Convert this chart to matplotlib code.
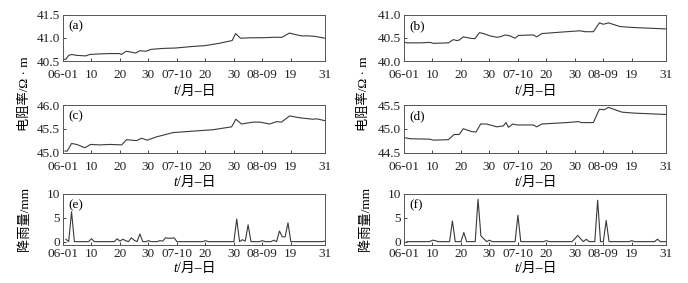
import numpy as np
import matplotlib
matplotlib.use('Agg')
import matplotlib.pyplot as plt
from matplotlib.transforms import offset_copy

plt.rcParams['font.family'] = ['Liberation Serif', 'Noto Sans CJK SC']
plt.rcParams['font.size'] = 9.5

# x axis: day number, June 1 = 1 ... Aug 31 = 92
tick_pos = [0, 10, 20, 30, 40, 50, 60, 70, 80, 92]
tick_labels = ['06-01', '10', '20', '30', '07-10', '20', '30', '08-09', '19', '31']

# (a) resistivity, left site
a_day = [0, 1, 2, 3, 5, 8, 9.4, 12, 16, 19.9, 20.5, 22.2, 24, 25.5, 26.9, 29.2, 30.9,
         35, 39.7, 45, 49.8, 54.8, 59.4, 60.6, 62.3, 66, 70, 74, 76.9, 79.5, 81.5, 83.8,
         86.2, 88.5, 92]
a_val = [40.53, 40.54, 40.62, 40.64, 40.62, 40.61, 40.64, 40.65, 40.66, 40.66, 40.64,
         40.71, 40.69, 40.67, 40.72, 40.71, 40.75, 40.77, 40.78, 40.81, 40.83, 40.88,
         40.94, 41.09, 40.99, 41.0, 41.0, 41.01, 41.01, 41.1, 41.07, 41.04, 41.04,
         41.03, 40.99]

# (b) resistivity, right site
b_day = [0, 0.9, 5.6, 9.1, 10.3, 15.6, 17.3, 18.5, 19.4, 20.8, 23.2, 24.9, 26.5, 27.9,
         30.2, 32.6, 33.7, 35.5, 37.2, 39, 40.2, 45.4, 46.6, 48.4, 57.1, 61.8, 63.6,
         66.5, 68.6, 70, 71.8, 75.9, 80.6, 92]
b_val = [40.41, 40.39, 40.39, 40.40, 40.38, 40.39, 40.46, 40.44, 40.45, 40.52, 40.49,
         40.48, 40.61, 40.59, 40.54, 40.51, 40.52, 40.56, 40.54, 40.49, 40.55, 40.56,
         40.52, 40.59, 40.63, 40.65, 40.63, 40.63, 40.82, 40.79, 40.82, 40.74, 40.72,
         40.69]

# (c) resistivity, left site
c_day = [0.7, 1.5, 3, 4.8, 7.7, 9.7, 13, 16.5, 20.6, 22.3, 25.8, 27.6, 29.6, 32.9,
         38.7, 43.4, 52.7, 59.2, 60.7, 62.7, 66.8, 69.1, 72.6, 75, 76.7, 79.6, 83.2,
         87.8, 89, 92]
c_val = [45.03, 45.03, 45.19, 45.17, 45.10, 45.17, 45.16, 45.17, 45.16, 45.27, 45.25,
         45.30, 45.26, 45.33, 45.42, 45.44, 45.48, 45.54, 45.70, 45.60, 45.64, 45.64,
         45.60, 45.65, 45.64, 45.77, 45.73, 45.70, 45.71, 45.67]

# (d) resistivity, right site
d_day = [0.4, 2.1, 9.1, 10.3, 15.6, 17.6, 19.4, 20.8, 23.8, 25.3, 26.9, 29, 32.6, 34.9,
         35.8, 36.7, 38.2, 39.6, 45.4, 46.6, 48.4, 57.1, 61.2, 62.4, 66.5, 68.6, 70.3,
         71.8, 76.5, 80.6, 92]
d_val = [44.81, 44.79, 44.78, 44.76, 44.77, 44.88, 44.88, 45.0, 44.94, 44.93, 45.10,
         45.10, 45.04, 45.06, 45.13, 45.03, 45.10, 45.08, 45.08, 45.04, 45.10, 45.13,
         45.15, 45.13, 45.13, 45.41, 45.40, 45.45, 45.35, 45.33, 45.30]

# (e) daily rainfall, left site (non-zero days)
e_rain_day = [1, 3, 10, 19, 20, 21, 22, 24, 25, 27, 30, 34, 35, 36, 37, 38, 39, 50,
              61, 63, 64, 65, 70, 74, 76, 77, 78, 79, 92]
e_rain_val = [0.5, 6.2, 0.6, 0.6, 0.1, 0.5, 0.2, 0.8, 0.3, 1.6, 0.2, 0.2, 0.1, 0.8,
              0.7, 0.7, 0.8, 0.2, 4.7, 0.4, 0.1, 3.5, 0.2, 0.3, 2.2, 1.0, 1.0, 3.9, 0.1]

# (f) daily rainfall, right site (non-zero days)
f_rain_day = [10, 11, 17, 21, 26, 27, 28, 30, 40, 50, 60, 61, 62, 64, 68, 71, 80, 89]
f_rain_val = [0.3, 0.2, 4.3, 1.9, 8.8, 1.2, 0.6, 0.3, 5.5, 0.2, 0.6, 1.3, 0.6, 0.5,
              8.6, 4.4, 0.2, 0.5]

days = np.arange(1, 93)
e_rain = np.zeros(len(days))
e_rain[np.array(e_rain_day) - 1] = e_rain_val
f_rain = np.zeros(len(days))
f_rain[np.array(f_rain_day) - 1] = f_rain_val

line_c = '#3a3a3a'
W, H = 688, 283
fig = plt.figure(figsize=(W / 100, H / 100), dpi=100)

def px_axes(left, top, right, bottom):
    return fig.add_axes([left / W, 1 - bottom / H, (right - left) / W, (bottom - top) / H])

cols = [(63, 325), (404, 666)]
rows = [(14.5, 61), (105, 152.5), (193.5, 245)]
tick_pad = [6, 6, 2]       # points
xlab_off = [-30, -30, -23]  # pixels below axes bottom

panels = [
    (0, 0, a_day, a_val, (40.5, 41.5), [40.5, 41.0, 41.5], '{:.1f}', '(a)'),
    (0, 1, b_day, b_val, (40.0, 41.0), [40.0, 40.5, 41.0], '{:.1f}', '(b)'),
    (1, 0, c_day, c_val, (45.0, 46.0), [45.0, 45.5, 46.0], '{:.1f}', '(c)'),
    (1, 1, d_day, d_val, (44.5, 45.5), [44.5, 45.0, 45.5], '{:.1f}', '(d)'),
    (2, 0, days, e_rain, (-0.7, 10), [0, 5, 10], '{:g}', '(e)'),
    (2, 1, days, f_rain, (-0.7, 10), [0, 5, 10], '{:g}', '(f)'),
]

for r, c, x, y, ylim, yt, fmt, tag in panels:
    ax = px_axes(cols[c][0], rows[r][0], cols[c][1], rows[r][1])
    ax.plot(x, y, color=line_c, lw=0.8)
    ax.set_xlim(0, 92)
    ax.set_ylim(*ylim)
    ax.set_xticks(tick_pos)
    ax.set_xticklabels(tick_labels)
    ax.set_yticks(yt)
    ax.set_yticklabels([fmt.format(v) for v in yt])
    ax.tick_params(direction='in', length=2.5, width=0.6, pad=2, labelsize=9.5,
                   colors='#222222')
    ax.tick_params(axis='x', pad=tick_pad[r])
    for s in ax.spines.values():
        s.set_color('#555555')
        s.set_linewidth(0.7)
    ax.text(0.02, 0.88, tag, transform=ax.transAxes, ha='left', va='top', fontsize=9.5)
    # x label "t/月–日" with italic t
    base = offset_copy(ax.transAxes, fig=fig, x=-17, y=xlab_off[r], units='dots')
    ax.text(0.5, 0, 't', transform=base, ha='right', va='center', fontsize=10,
            style='italic')
    ax.text(0.5, 0, '/月–日', transform=base, ha='left', va='center', fontsize=10)
    if r == 2:
        ax.set_ylabel('降雨量/mm', fontsize=9.5)
        ax.yaxis.set_label_coords(-32 / 262, 0.5)

# shared resistivity labels
fig.text(25 / W, 1 - 94 / H, '电阻率/Ω · m', rotation=90, ha='center', va='center',
         fontsize=9.5)
fig.text(364 / W, 1 - 94 / H, '电阻率/Ω · m', rotation=90, ha='center', va='center',
         fontsize=9.5)

fig.savefig('out.png', dpi=100)
